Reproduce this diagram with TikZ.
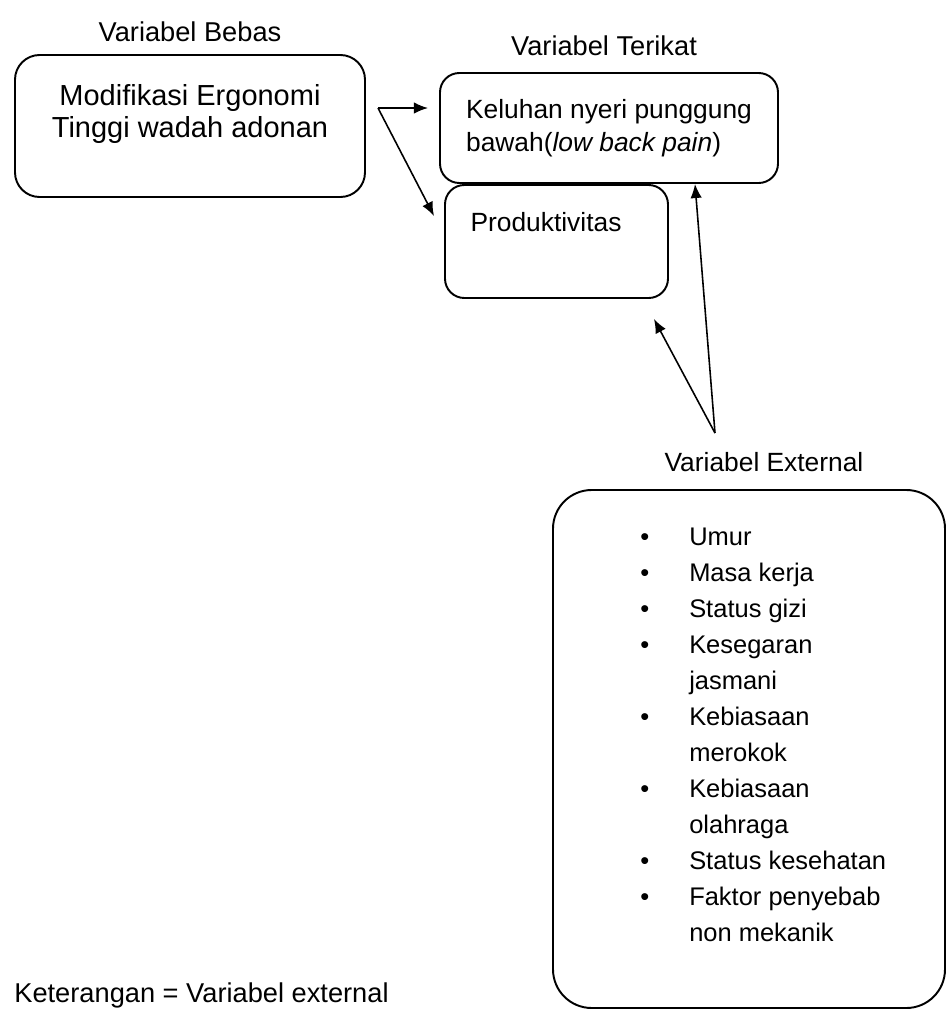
\documentclass[tikz,border=0pt]{standalone}
\usepackage{fontspec}
\setmainfont{Liberation Sans}
\usetikzlibrary{arrows.meta,positioning}

\begin{document}
\begin{tikzpicture}[
      kotak/.style={draw, line width=1.1pt, rounded corners=11pt},
      judul/.style={font=\fontsize{15.5}{18}\selectfont},
      isi/.style={font=\fontsize{15}{18.8}\selectfont, align=left},
      arr/.style={-{Latex[length=8pt,width=6.5pt]}, line width=0.9pt}
  ]
    \useasboundingbox (0,0) rectangle (18.94,-20.4);

    % kotak-kotak variabel
    \node[kotak, minimum width=7.0cm, minimum height=2.84cm, rounded corners=14pt] (bebas) at (3.8,-2.52) {};
    \node[isi, align=center, font=\fontsize{16.5}{18.2}\selectfont] (bebastxt) at (3.8,-2.28)
         {Modifikasi Ergonomi\\ Tinggi wadah adonan};
    \node[judul, above=0.12cm of bebas] (jbebas) {Variabel Bebas};

    \node[kotak, isi, minimum width=6.76cm, minimum height=2.2cm] (keluhan) at (12.18,-2.56)
         {Keluhan nyeri punggung\\ bawah(\textit{low back pain})};
    \node[judul, above=0.2cm of keluhan, xshift=-0.1cm] (jterikat) {Variabel Terikat};

    \node[kotak, minimum width=4.46cm, minimum height=2.26cm] (produk) at (11.13,-4.83) {};
    \node[isi] (produktxt) at (10.92,-4.44) {Produktivitas};

    \node[kotak, minimum width=7.84cm, minimum height=10.36cm, rounded corners=22pt] (luar) at (14.98,-14.98) {};
    \node[judul, above=0.22cm of luar, xshift=0.3cm, font=\fontsize{15}{18}\selectfont] (jluar) {Variabel External};
    \node[anchor=west, inner sep=0pt, font=\fontsize{14.5}{20.5}\selectfont] (daftar) at (12.8,-14.73) {%
      \begin{tabular}{@{}l@{\hspace{0.8cm}}l@{}}
        \textbullet & Umur\\
        \textbullet & Masa kerja\\
        \textbullet & Status gizi\\
        \textbullet & Kesegaran\\
                    & jasmani\\
        \textbullet & Kebiasaan\\
                    & merokok\\
        \textbullet & Kebiasaan\\
                    & olahraga\\
        \textbullet & Status kesehatan\\
        \textbullet & Faktor penyebab\\
                    & non mekanik
      \end{tabular}};

    \node[judul] (ket) at (4.03,-19.9) {Keterangan = Variabel external};

    % panah
    \coordinate (fork) at (7.56,-2.16);
    \coordinate (extfork) at (14.3,-8.66);
    \draw[arr, shorten >=0.22cm] (fork) -- (fork -| keluhan.west);
    \draw[arr] (fork) -- ([xshift=-0.2cm,yshift=-0.64cm]produk.north west);
    \draw[arr] (extfork) -- ([xshift=1.72cm]keluhan.south);
    \draw[arr] (extfork) -- ([xshift=-0.3cm,yshift=-0.4cm]produk.south east);
\end{tikzpicture}
\end{document}
